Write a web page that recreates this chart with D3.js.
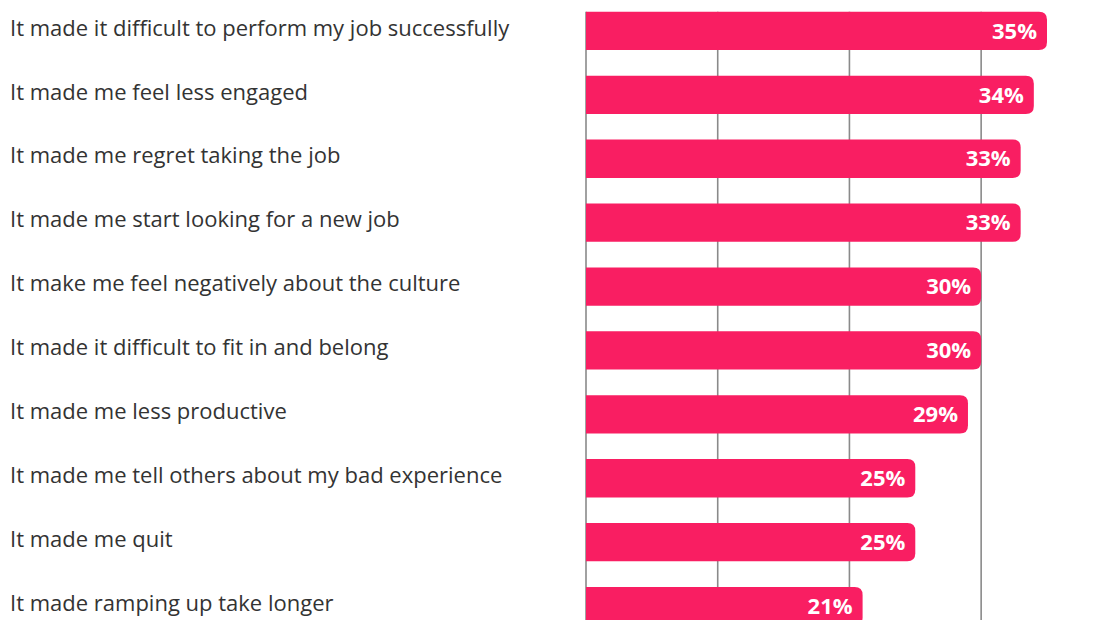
<!DOCTYPE html>
<html>
<head>
<meta charset="utf-8">
<script src="https://cdn.jsdelivr.net/npm/d3@7"></script>
<style>
  html, body { margin: 0; padding: 0; background: #ffffff; }
  svg { display: block; }
</style>
</head>
<body>
<svg id="chart" width="1102" height="620"></svg>
<script>
// Survey responses: effects reported, share of respondents
const categories = [
  "It made it difficult to perform my job successfully",
  "It made me feel less engaged",
  "It made me regret taking the job",
  "It made me start looking for a new job",
  "It make me feel negatively about the culture",
  "It made it difficult to fit in and belong",
  "It made me less productive",
  "It made me tell others about my bad experience",
  "It made me quit",
  "It made ramping up take longer"
];
const values = [35, 34, 33, 33, 30, 30, 29, 25, 25, 21];
const gridTicks = [0, 10, 20, 30];

const width = 1102, height = 620;
const svg = d3.select("#chart");

const x = d3.scaleLinear().domain([0, 35]).range([586, 1047]);
const y = d3.scaleBand()
  .domain(categories)
  .range([-1, 638])
  .paddingInner(0.4)
  .paddingOuter(0.2);

const barColor = "#f91e62";
const radius = 8;

// vertical gridlines behind the bars
svg.append("g")
  .selectAll("line")
  .data(gridTicks)
  .join("line")
  .attr("x1", d => x(d))
  .attr("x2", d => x(d))
  .attr("y1", y(categories[0]))
  .attr("y2", height)
  .attr("stroke", "#8a8a8a")
  .attr("stroke-width", 1.6);

// bar shape: square on the left, rounded on the right
function barPath(d, i) {
  const x0 = x(0), x1 = x(d), y0 = y(categories[i]), h = y.bandwidth();
  const r = Math.min(radius, (x1 - x0) / 2, h / 2);
  return `M${x0},${y0}H${x1 - r}Q${x1},${y0} ${x1},${y0 + r}` +
         `V${y0 + h - r}Q${x1},${y0 + h} ${x1 - r},${y0 + h}H${x0}Z`;
}

svg.append("g")
  .selectAll("path")
  .data(values)
  .join("path")
  .attr("d", barPath)
  .attr("fill", barColor);

// value labels inside the bar ends
svg.append("g")
  .selectAll("text")
  .data(values)
  .join("text")
  .attr("x", d => x(d) - 10)
  .attr("y", (d, i) => y(categories[i]) + y.bandwidth() / 2)
  .attr("dy", "0.35em")
  .attr("text-anchor", "end")
  .attr("fill", "#ffffff")
  .attr("font-family", "'Open Sans', sans-serif")
  .attr("font-weight", 700)
  .attr("font-size", 22)
  .text(d => d + "%");

// category labels on the left
svg.append("g")
  .selectAll("text")
  .data(categories)
  .join("text")
  .attr("x", 10)
  .attr("y", d => y(d) + y.bandwidth() / 2 - 3)
  .attr("dy", "0.35em")
  .attr("fill", "#333333")
  .attr("font-family", "'Open Sans', sans-serif")
  .attr("font-weight", 500)
  .attr("font-size", 22)
  .text(d => d);
</script>
</body>
</html>
